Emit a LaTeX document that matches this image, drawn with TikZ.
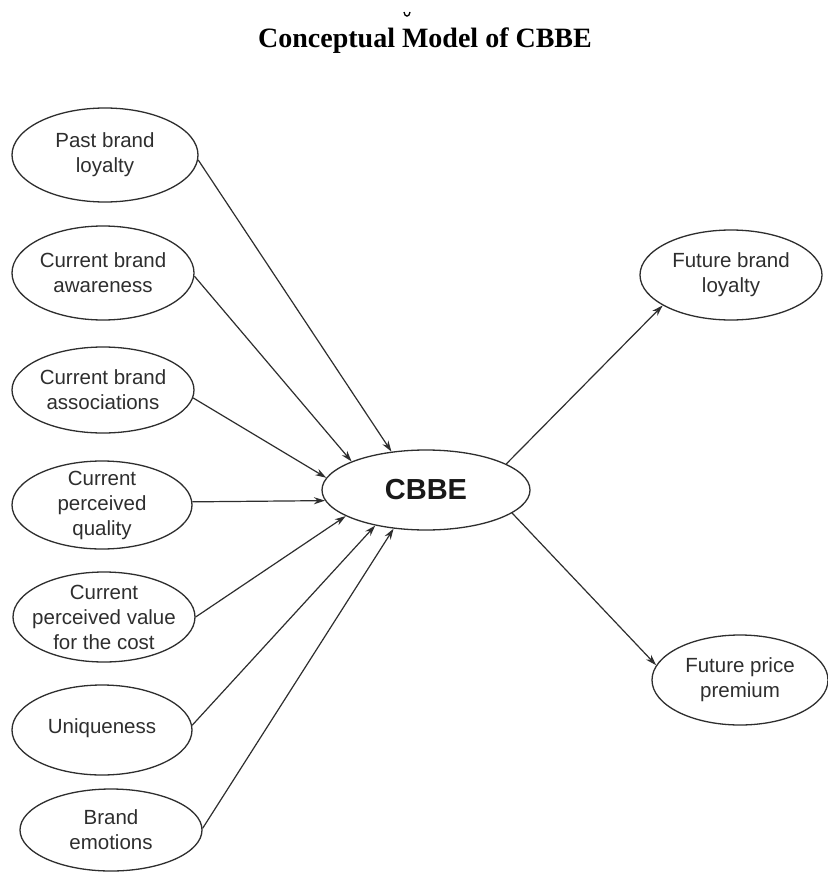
\documentclass[tikz,border=0pt]{standalone}
\usepackage{fontspec}
\setmainfont{Liberation Sans}
\newfontfamily\titlefont{Liberation Serif}
\usetikzlibrary{arrows.meta,shapes.geometric}
\definecolor{ink}{rgb}{0.18,0.18,0.18}
\begin{document}
\begin{tikzpicture}[x=1pt,y=-1pt,
  ell/.style={ellipse, draw=ink, line width=1.3pt, inner xsep=-70pt, inner ysep=-45pt,
    align=center, text=ink, font=\fontsize{20.5}{25}\selectfont},
  arr/.style={draw=ink, line width=1.2pt, -{Stealth[length=11pt,width=7pt]}}]
\useasboundingbox (0,0) rectangle (827,872);
\fill[white] (0,0) rectangle (827,872);
% title
\node[font=\titlefont\bfseries\fontsize{28}{32}\selectfont, text=black] (title) at (425,41) {Conceptual Model of CBBE};
\draw[line width=1.3pt] (404,12) .. controls (404.5,17.5) and (409.5,17.5) .. (410,12);
% left nodes
\node[ell, minimum width=186pt, minimum height=94pt] (pbl) at (105,155) {Past brand\\loyalty};
\node[ell, minimum width=182pt, minimum height=94pt] (cba) at (103,273) {Current brand\\awareness};
\node[ell, minimum width=182pt, minimum height=86pt] (cbs) at (103,390) {Current brand\\associations};
\node[ell, minimum width=180pt, minimum height=88pt] (cpq) at (102,505) {Current\\perceived\\quality};
\node[ell, minimum width=182pt, minimum height=90pt] (cpv) at (104,617) {Current\\perceived value\\for the cost};
\node[ell, minimum width=180pt, minimum height=90pt] (unq) at (102,730) {\raisebox{8pt}{Uniqueness}};
\node[ell, minimum width=182pt, minimum height=82pt] (bem) at (111,830) {Brand\\emotions};
% centre
\node[ell, minimum width=208pt, minimum height=80pt, font=\bfseries\fontsize{29}{32}\selectfont, text=black!90] (cbbe) at (426,490) {CBBE};
% right nodes
\node[ell, minimum width=182pt, minimum height=90pt] (fbl) at (731,275) {Future brand\\loyalty};
\node[ell, minimum width=176pt, minimum height=90pt] (fpp) at (740,680) {Future price\\premium};
% arrows in
\draw[arr] (pbl.-3) -- (cbbe.132.6);
\draw[arr] (cba.-2.5) -- (cbbe.159.3);
\draw[arr] (cbs.-5) -- (cbbe.173.2);
\draw[arr] (cpq.2) -- (cbbe.186.1);
\draw[arr] (cpv.0) -- (cbbe.198);
\draw[arr] (unq.3) -- (cbbe.215);
\draw[arr] (bem.1) -- (cbbe.230.6);
% arrows out
\draw[arr] (cbbe.18.4) -- (fbl.204.5);
\draw[arr] (cbbe.-15.3) -- (fpp.170.4);
\end{tikzpicture}
\end{document}
